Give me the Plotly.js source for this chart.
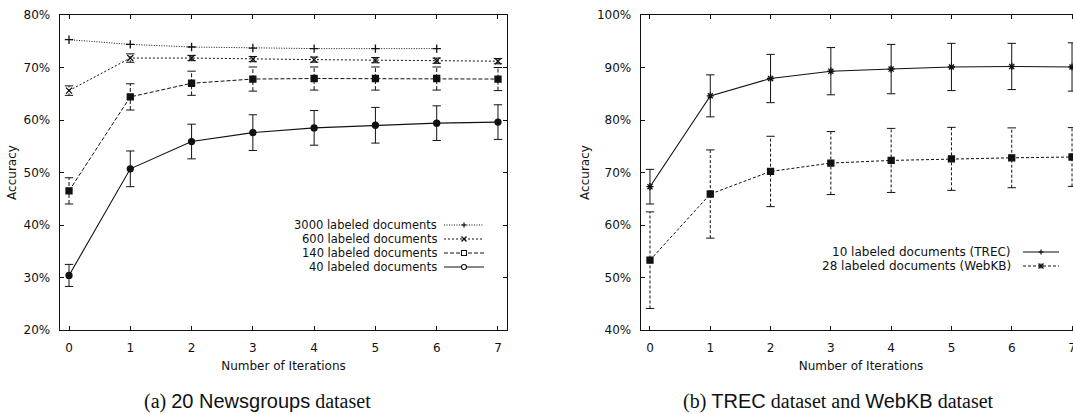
<!DOCTYPE html>
<html>
<head>
<meta charset="utf-8">
<script src="https://cdn.plot.ly/plotly-3.0.1.min.js"></script>
<style>
  html, body { margin: 0; padding: 0; background: #fff; overflow: hidden; }
  #chart { width: 1090px; height: 414px; }
</style>
</head>
<body>
<div id="chart"></div>
<script>
// Iteration index shared by both panels
const iterations = [0, 1, 2, 3, 4, 5, 6, 7];

// (a) 20 Newsgroups: accuracy (%) and error half-widths
const acc3000 = [75.3, 74.4, 73.9, 73.7, 73.6, 73.6, 73.6];
const acc600  = [65.6, 71.8, 71.8, 71.6, 71.5, 71.4, 71.3, 71.2];
const err600  = [0.9, 0.8, 0.5, 0.5, 0.5, 0.5, 0.5, 0.5];
const acc140  = [46.5, 64.4, 67.0, 67.8, 67.9, 67.9, 67.9, 67.8];
const err140  = [2.5, 2.5, 2.3, 2.3, 2.2, 2.2, 2.2, 2.2];
const acc40   = [30.4, 50.7, 55.9, 57.6, 58.5, 59.0, 59.4, 59.6];
const err40   = [2.1, 3.4, 3.3, 3.4, 3.3, 3.4, 3.3, 3.3];

// (b) TREC and WebKB
const accTrec  = [67.3, 84.6, 87.9, 89.3, 89.7, 90.1, 90.2, 90.1];
const errTrec  = [3.3, 4.0, 4.6, 4.5, 4.7, 4.5, 4.4, 4.6];
const accWebkb = [53.3, 65.9, 70.2, 71.8, 72.3, 72.6, 72.8, 72.95];
const errWebkb = [9.2, 8.4, 6.7, 6.0, 6.1, 6.0, 5.7, 5.6];

// Legend labels
const namesA = ['3000 labeled documents', '600 labeled documents', '140 labeled documents', '40 labeled documents'];
const namesB = ['10 labeled documents (TREC)', '28 labeled documents (WebKB)'];

const W = 1090, H = 414;
const FONT = 'DejaVu Sans, Liberation Sans, sans-serif';
const INK = '#111';
const px = v => v / W;
const py = v => 1 - v / H;

function series(y, xa, ya, dash, symbol, size, lw) {
  return {
    x: iterations.slice(0, y.length), y: y, xaxis: xa, yaxis: ya,
    mode: 'lines+markers', showlegend: false, hoverinfo: 'x+y',
    line: { color: INK, width: lw || 1, dash: dash },
    marker: { symbol: symbol, size: size, color: INK, line: { color: INK, width: 1.3 } }
  };
}

function errorBars(y, e, xa, ya, dash) {
  const xs = [], ys = [];
  y.forEach((v, i) => {
    xs.push(iterations[i], iterations[i], null);
    ys.push(v - e[i], v + e[i], null);
  });
  return {
    x: xs, y: ys, xaxis: xa, yaxis: ya, mode: 'lines+markers',
    showlegend: false, hoverinfo: 'skip', connectgaps: false,
    line: { color: INK, width: 1, dash: dash },
    marker: { symbol: 'line-ew', size: 6, color: INK, line: { color: INK, width: 1 } }
  };
}

const DOT_FINE = '1px,1.5px';
const DOT = '2px,2px';
const DASH = '4px,2px';
const DASH_B = '3px,2px';

const data = [
  errorBars(acc600, err600, 'x', 'y', DOT),
  errorBars(acc140, err140, 'x', 'y', DASH),
  errorBars(acc40, err40, 'x', 'y', 'solid'),
  series(acc3000, 'x', 'y', DOT_FINE, 'cross-thin-open', 6),
  series(acc600, 'x', 'y', DOT, 'x-thin-open', 6),
  series(acc140, 'x', 'y', DASH, 'square', 6),
  series(acc40, 'x', 'y', 'solid', 'circle', 6, 1.1),
  errorBars(accTrec, errTrec, 'x2', 'y2', 'solid'),
  errorBars(accWebkb, errWebkb, 'x2', 'y2', DASH_B),
  series(accTrec, 'x2', 'y2', 'solid', 'asterisk-open', 6, 1.1),
  series(accWebkb, 'x2', 'y2', DASH_B, 'square', 6)
];

function xAxis(domain, range, anchor) {
  return {
    domain: domain, range: range, anchor: anchor,
    tickvals: iterations, ticks: 'inside', ticklen: 4, tickwidth: 1, tickcolor: INK,
    showline: true, linecolor: INK, linewidth: 1.4, mirror: 'ticks',
    showgrid: false, zeroline: false, ticklabelstandoff: 6,
    tickfont: { family: FONT, size: 12, color: INK },
    title: { text: 'Number of Iterations', standoff: 8, font: { family: FONT, size: 12, color: INK } }
  };
}
function yAxis(range, anchor) {
  return {
    domain: [84 / H, 399 / H], range: range, anchor: anchor,
    dtick: 10, ticksuffix: '%', ticks: 'inside', ticklen: 4, tickwidth: 1, tickcolor: INK,
    showline: true, linecolor: INK, linewidth: 1.4, mirror: 'ticks',
    showgrid: false, zeroline: false, ticklabelstandoff: 6,
    tickfont: { family: FONT, size: 12, color: INK },
    title: { text: 'Accuracy', standoff: 4, font: { family: FONT, size: 12, color: INK } }
  };
}

// Legend: right-aligned labels with line samples on the right
const shapes = [], annotations = [];
function legendEntry(label, textRight, lineX0, lineX1, yPix, dash, markerKind, fontSize) {
  annotations.push({
    xref: 'paper', yref: 'paper', x: px(textRight), y: py(yPix),
    xanchor: 'right', yanchor: 'middle', showarrow: false, text: label,
    font: { family: FONT, size: fontSize, color: INK }
  });
  shapes.push({ type: 'line', xref: 'paper', yref: 'paper', x0: px(lineX0), x1: px(lineX1), y0: py(yPix), y1: py(yPix),
    line: { color: INK, width: 1, dash: dash } });
  const cx = (lineX0 + lineX1) / 2, r = 2.5;
  const seg = (x0, y0, x1, y1, w) => shapes.push({ type: 'line', xref: 'paper', yref: 'paper',
    x0: px(x0), y0: py(y0), x1: px(x1), y1: py(y1), line: { color: INK, width: w || 1.2 } });
  if (markerKind === 'plus' || markerKind === 'star') {
    seg(cx - r, yPix, cx + r, yPix); seg(cx, yPix - r, cx, yPix + r);
  }
  if (markerKind === 'cross' || markerKind === 'star') {
    seg(cx - r, yPix - r, cx + r, yPix + r); seg(cx - r, yPix + r, cx + r, yPix - r);
  }
  if (markerKind === 'square' || markerKind === 'circle') {
    shapes.push({ type: markerKind === 'square' ? 'rect' : 'circle', xref: 'paper', yref: 'paper',
      x0: px(cx - r), x1: px(cx + r), y0: py(yPix - r), y1: py(yPix + r),
      fillcolor: '#fff', line: { color: INK, width: 1.1 } });
  }
}
const legendA = [[DOT_FINE, 'plus'], [DOT, 'cross'], [DASH, 'square'], ['solid', 'circle']];
namesA.forEach((n, i) => legendEntry(n, 439, 444, 484, 225 + 14 * i, legendA[i][0], legendA[i][1], 11.5));
const legendB = [['solid', 'plus'], [DASH_B, 'star']];
namesB.forEach((n, i) => legendEntry(n, 1013, 1023, 1059, 252 + 14 * i, legendB[i][0], legendB[i][1], 12));

// Panel captions
const SERIF = 'Liberation Serif, Times New Roman, serif';
const SANS = 'Liberation Sans, Arial, sans-serif';
function caption(x, parts) {
  annotations.push({
    xref: 'paper', yref: 'paper', x: px(x), y: py(401), xanchor: 'center', yanchor: 'middle',
    showarrow: false, font: { family: SERIF, size: 20, color: INK },
    text: parts.map(p => p[1] ? '<span style="font-family:' + SANS + '">' + p[0] + '</span>' : p[0]).join('')
  });
}
caption(257, [['(a) ', 0], ['20 Newsgroups', 1], [' dataset', 0]]);
caption(838, [['(b) ', 0], ['TREC', 1], [' dataset and ', 0], ['WebKB', 1], [' dataset', 0]]);

const layout = {
  width: W, height: H,
  margin: { l: 0, r: 0, t: 0, b: 0 },
  paper_bgcolor: '#fff', plot_bgcolor: '#fff',
  showlegend: false,
  xaxis: xAxis([60 / W, 507 / W], [-0.147, 7.147], 'y'),
  yaxis: yAxis([20, 80], 'x'),
  xaxis2: xAxis([641 / W, 1081 / W], [-0.149, 7.149], 'y2'),
  yaxis2: yAxis([40, 100], 'x2'),
  shapes: shapes,
  annotations: annotations
};

Plotly.newPlot('chart', data, layout, { displayModeBar: false, staticPlot: true });
</script>
</body>
</html>
